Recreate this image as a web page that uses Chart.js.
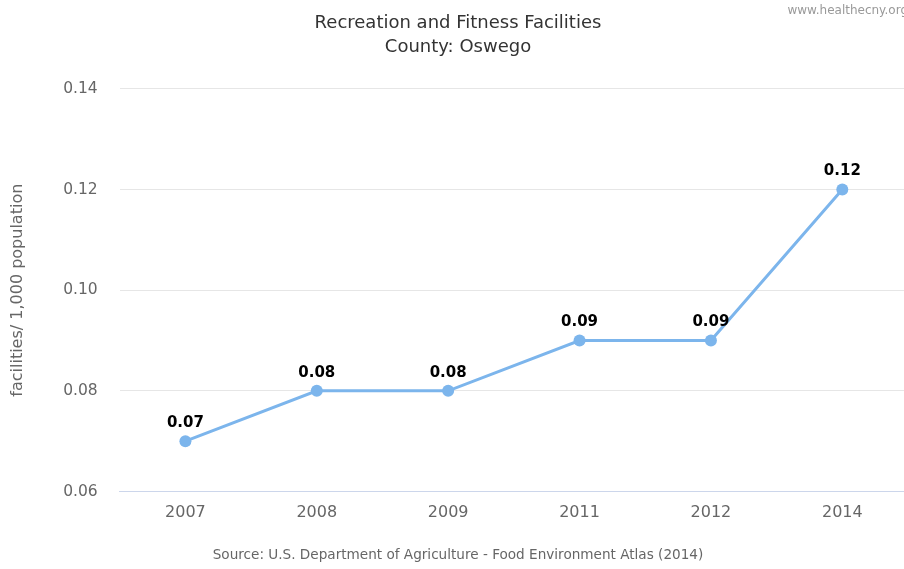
<!DOCTYPE html>
<html>
<head>
<meta charset="utf-8">
<script src="https://cdn.jsdelivr.net/npm/chart.js@4/dist/chart.umd.min.js"></script>
<style>
  html, body { margin: 0; padding: 0; background: #fff; overflow: hidden; }
  #wrap { width: 924px; height: 569px; }
</style>
</head>
<body>
<div id="wrap"><canvas id="myChart"></canvas></div>
<script>
const years = ['2007', '2008', '2009', '2011', '2012', '2014']
const facilities = [0.07, 0.08, 0.08, 0.09, 0.09, 0.12]
const yTicks = [0.06, 0.08, 0.10, 0.12, 0.14]

const FONT = "'DejaVu Sans', Verdana, sans-serif"

// value labels above each point + credit text top right
const pointLabels = {
    id: 'pointLabels',
    afterDatasetsDraw(chart) {
        const ctx = chart.ctx
        const meta = chart.getDatasetMeta(0)
        ctx.save()
        ctx.font = 'bold 15px ' + FONT
        ctx.fillStyle = '#000'
        ctx.textAlign = 'center'
        ctx.textBaseline = 'middle'
        meta.data.forEach((pt, i) => {
            ctx.fillText(facilities[i].toFixed(2), pt.x, pt.y - 18)
        })
        ctx.font = '12px ' + FONT
        ctx.fillStyle = '#999'
        ctx.textAlign = 'right'
        ctx.fillText('www.healthecny.org', chart.width - 16, 11)
        ctx.restore()
    }
}

const ctx = document.getElementById('myChart')
const myChart = new Chart(ctx, {
    type: 'line',
    data: {
        labels: years,
        datasets: [{
            label: 'Oswego',
            data: facilities,
            borderColor: '#7cb5ec',
            backgroundColor: '#7cb5ec',
            borderWidth: 3,
            pointRadius: 6,
            pointHoverRadius: 6,
            pointBorderWidth: 0,
            tension: 0
        }]
    },
    options: {
        responsive: true,
        maintainAspectRatio: false,
        animation: false,
        layout: { padding: { left: 8, right: 16, top: 0, bottom: 5 } },
        plugins: {
            legend: { display: false },
            tooltip: { enabled: false },
            title: {
                display: true,
                text: ['Recreation and Fitness Facilities', 'County: Oswego'],
                color: '#333',
                font: { family: FONT, size: 18, weight: 'normal', lineHeight: 1.33 },
                padding: { top: 11, bottom: 30 }
            },
            subtitle: {
                display: true,
                position: 'bottom',
                text: 'Source: U.S. Department of Agriculture - Food Environment Atlas (2014)',
                color: '#666',
                font: { family: FONT, size: 13.6 },
                padding: { top: 13, bottom: 0 }
            }
        },
        scales: {
            x: {
                offset: true,
                grid: { display: false, drawTicks: false },
                border: { color: '#ccd6eb', width: 1 },
                ticks: { color: '#666', font: { family: FONT, size: 16 }, padding: 12 }
            },
            y: {
                min: 0.06,
                max: 0.14,
                afterBuildTicks: (scale) => { scale.ticks = yTicks.map(v => ({ value: v })) },
                grid: { color: '#e6e6e6', drawTicks: false },
                border: { display: false },
                ticks: {
                    color: '#666',
                    font: { family: FONT, size: 15.5 },
                    padding: 22,
                    callback: (v) => v.toFixed(2)
                },
                title: {
                    display: true,
                    text: 'facilities/ 1,000 population',
                    color: '#666',
                    font: { family: FONT, size: 16 },
                    padding: { top: 0, bottom: 14 }
                }
            }
        }
    },
    plugins: [pointLabels]
})
</script>
</body>
</html>
